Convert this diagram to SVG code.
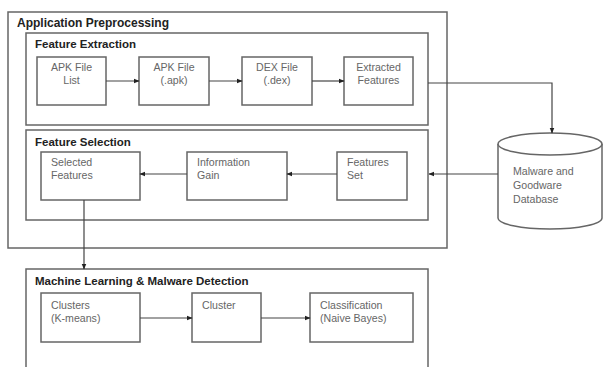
<svg xmlns="http://www.w3.org/2000/svg" width="603" height="367" viewBox="0 0 603 367">
<defs>
<marker id="ah" viewBox="0 0 10 10" refX="9" refY="5" markerWidth="6" markerHeight="6" orient="auto" markerUnits="userSpaceOnUse"><path d="M0,1 L10,5 L0,9 z" fill="#222"/></marker>
</defs>
<style>
.grp{fill:none;stroke:#666;stroke-width:1.5}
.nd{fill:#fff;stroke:#666;stroke-width:1.5}
.ttl{font-family:"Liberation Sans",Arial,sans-serif;font-size:11.5px;font-weight:bold;fill:#222}
.tx{font-family:"Liberation Sans",Arial,sans-serif;font-size:10.6px;fill:#666}
.tc{text-anchor:middle}
.cn{fill:none;stroke:#444;stroke-width:1.2;marker-end:url(#ah)}
</style>
<rect width="603" height="367" fill="#fff"/>
<g id="app-preprocessing">
<rect class="grp" x="8" y="12" width="439" height="236"/>
<text class="ttl" x="17" y="27" style="font-size:12px">Application Preprocessing</text>
</g>
<g id="feature-extraction">
<rect class="grp" x="26" y="33" width="402" height="92"/>
<text class="ttl" x="35" y="48">Feature Extraction</text>
</g>
<g id="feature-selection">
<rect class="grp" x="26" y="130" width="402" height="90"/>
<text class="ttl" x="35" y="146">Feature Selection</text>
</g>
<g id="ml-detection">
<rect class="grp" x="26" y="269" width="402" height="110"/>
<text class="ttl" x="35" y="285">Machine Learning &amp; Malware Detection</text>
</g>
<g id="apk-list">
<rect class="nd" x="37" y="57" width="69" height="48"/>
<text class="tx tc" x="71.5" y="71">APK File</text>
<text class="tx tc" x="71.5" y="84">List</text>
</g>
<g id="apk-file">
<rect class="nd" x="139" y="57" width="70" height="48"/>
<text class="tx tc" x="174" y="71">APK File</text>
<text class="tx tc" x="174" y="84">(.apk)</text>
</g>
<g id="dex-file">
<rect class="nd" x="242" y="57" width="70" height="48"/>
<text class="tx tc" x="277" y="71">DEX File</text>
<text class="tx tc" x="277" y="84">(.dex)</text>
</g>
<g id="extracted-features">
<rect class="nd" x="344" y="57" width="69" height="48"/>
<text class="tx tc" x="378.5" y="71">Extracted</text>
<text class="tx tc" x="378.5" y="84">Features</text>
</g>
<g id="selected-features">
<rect class="nd" x="41" y="152" width="99" height="48"/>
<text class="tx" x="51" y="166">Selected</text>
<text class="tx" x="51" y="179">Features</text>
</g>
<g id="information-gain">
<rect class="nd" x="187" y="152" width="100" height="48"/>
<text class="tx" x="197" y="166">Information</text>
<text class="tx" x="197" y="179">Gain</text>
</g>
<g id="features-set">
<rect class="nd" x="337" y="152" width="70" height="48"/>
<text class="tx" x="347" y="166">Features</text>
<text class="tx" x="347" y="179">Set</text>
</g>
<g id="database">
<path class="nd" d="M498,144 L498,218 A52,11 0 0 0 602,218 L602,144"/>
<ellipse class="nd" cx="550" cy="144" rx="52" ry="11"/>
<text class="tx" x="513" y="175">Malware and</text>
<text class="tx" x="513" y="189">Goodware</text>
<text class="tx" x="513" y="203">Database</text>
</g>
<g id="clusters-kmeans">
<rect class="nd" x="41" y="293" width="99" height="49"/>
<text class="tx" x="51" y="309">Clusters</text>
<text class="tx" x="51" y="322">(K-means)</text>
</g>
<g id="cluster">
<rect class="nd" x="192" y="293" width="69" height="49"/>
<text class="tx" x="202" y="309">Cluster</text>
</g>
<g id="classification">
<rect class="nd" x="310" y="293" width="103" height="49"/>
<text class="tx" x="320" y="309">Classification</text>
<text class="tx" x="320" y="322">(Naive Bayes)</text>
</g>
<g id="connectors">
<path class="cn" d="M106,81 L139,81"/>
<path class="cn" d="M209,81 L242,81"/>
<path class="cn" d="M312,81 L344,81"/>
<path class="cn" d="M428,83 L552,83 L552,133"/>
<path class="cn" d="M498,174 L429,174"/>
<path class="cn" d="M337,174 L287,174"/>
<path class="cn" d="M187,174 L140,174"/>
<path class="cn" d="M84,200 L84,269"/>
<path class="cn" d="M140,318 L192,318"/>
<path class="cn" d="M261,318 L310,318"/>
</g>
</svg>
